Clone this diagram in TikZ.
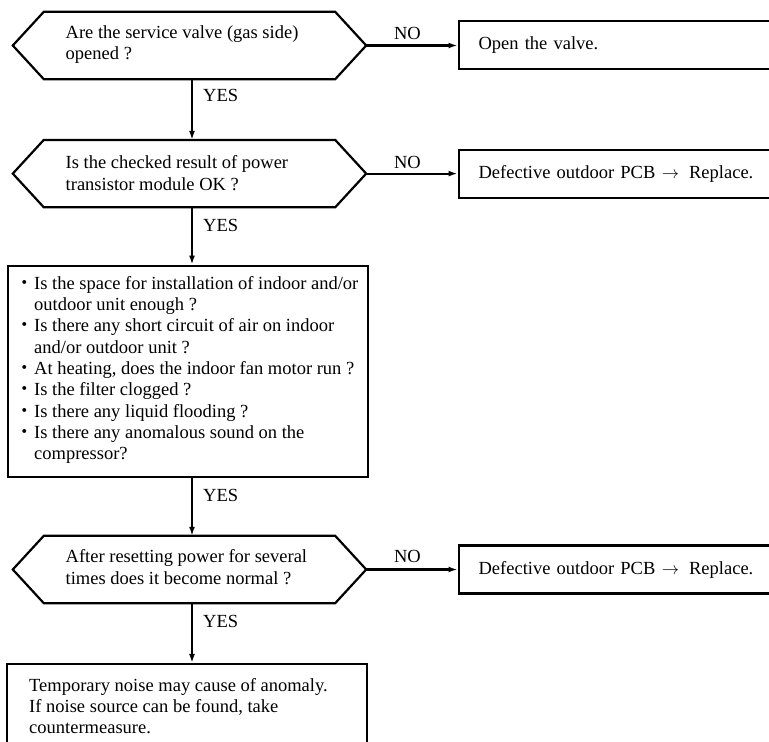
\documentclass[tikz,border=0pt]{standalone}
\usepackage{fontspec}
\setmainfont{Liberation Serif}
\newfontfamily\cjkdot{Noto Sans CJK JP}
\usetikzlibrary{arrows.meta}
\newcommand{\bul}{\llap{\cjkdot ・}}
\newcommand{\toarrow}{\hspace{6.5pt}$\rightarrow$\hspace{10pt}}
\begin{document}
\begin{tikzpicture}[x=1pt,y=-1pt,
  every node/.style={font=\fontsize{18.5}{21.3}\selectfont, inner sep=0pt},
  shapeline/.style={line width=2.2pt, draw=black},
  arr/.style={line width=2.2pt, draw=black, -{Latex[length=9pt,width=6pt]}},
  hexq/.style={minimum width=291pt, minimum height=67pt, draw=none},
  txt/.style={align=left, anchor=west},
  boxr/.style={draw, line width=2.2pt, rectangle, anchor=west, minimum width=318pt, minimum height=48pt, text width=278pt, inner xsep=20pt, align=left},
  bigbox/.style={draw, line width=2.2pt, rectangle, minimum width=360pt}
]
\clip (0,0) rectangle (769,742);
% decision hexagons
\node[hexq] (q1) at (189.5,45.5) {};
\node[hexq] (q2) at (189.5,173.6) {};
\node[hexq] (q3) at (189.5,569.5) {};
\foreach \q in {q1,q2,q3}{
  \draw[shapeline] (\q.north west) -- (\q.north east) -- ([xshift=31pt]\q.east) -- (\q.south east) -- (\q.south west) -- ([xshift=-31pt]\q.west) -- cycle;
  \coordinate (\q tip) at ([xshift=31pt]\q.east);
}
\node[txt] (q1t) at (65.5,44.5) {Are the service valve (gas side)\\opened ?};
\node[txt] (q2t) at (65.5,173) {Is the checked result of power\\transistor module OK ?};
\node[txt] (q3t) at (65.5,567) {After resetting power for several\\times does it become normal ?};
% result boxes on the right
\node[boxr] (a1) at (457.5,45) {Open the valve.};
\node[boxr] (a2) at (457.5,174) {Defective outdoor PCB\toarrow Replace.};
\node[boxr] (a3) at (457.5,569.5) {Defective outdoor PCB\toarrow Replace.};
% check list box
\node[bigbox, minimum height=211pt] (b1) at (188,371.2) {};
\node[txt] (b1t) at (34,370) {\bul Is the space for installation of indoor and/or\\outdoor unit enough ?\\\bul Is there any short circuit of air on indoor\\and/or outdoor unit ?\\\bul At heating, does the indoor fan motor run ?\\\bul Is the filter clogged ?\\\bul Is there any liquid flooding ?\\\bul Is there any anomalous sound on the\\compressor?};
% final box
\node[bigbox, minimum height=140pt, minimum width=359.7pt] (f1) at (187.2,734) {};
\node[txt] (f1t) at (29,706) {Temporary noise may cause of anomaly.\\If noise source can be found, take\\countermeasure.};
% connectors
\draw[arr] ([xshift=2.5pt]q1.south) -- ([xshift=2.5pt]q2.north);
\draw[arr] ([xshift=2.5pt]q2.south) -- ([xshift=2.5pt]q2.south |- b1.north);
\draw[arr] ([xshift=4pt]b1.south) -- ([xshift=2.5pt]q3.north);
\draw[arr] ([xshift=2.5pt]q3.south) -- ([xshift=2.5pt]q3.south |- f1.north);
\draw[arr] (q1tip) -- (q1tip -| a1.west);
\draw[arr] (q2tip) -- (q2tip -| a2.west);
\draw[arr] (q3tip) -- (q3tip -| a3.west);
% labels
\node[anchor=west] (y1) at (203,95) {YES};
\node[anchor=west] (y2) at (203,225) {YES};
\node[anchor=west] (y3) at (203,495) {YES};
\node[anchor=west] (y4) at (203,621.5) {YES};
\node (n1) at (407.5,33) {NO};
\node (n2) at (407.5,162) {NO};
\node (n3) at (407.5,556) {NO};
\end{tikzpicture}
\end{document}
